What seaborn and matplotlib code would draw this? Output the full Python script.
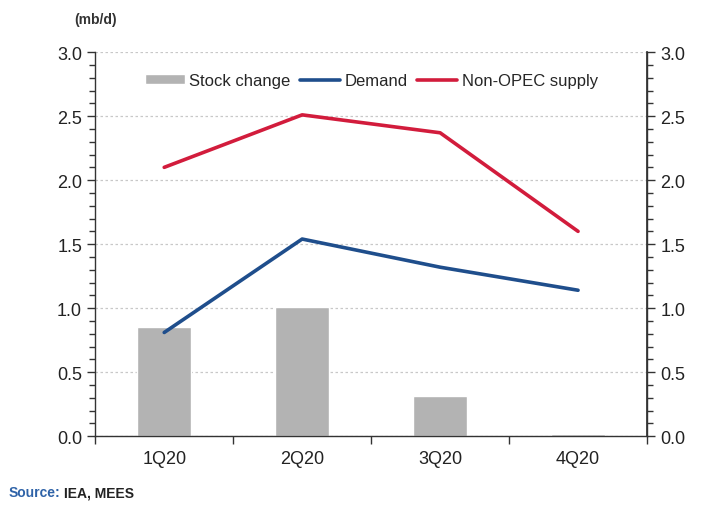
import matplotlib
matplotlib.use("Agg")
import matplotlib.pyplot as plt
import seaborn as sns
import numpy as np
import pandas as pd
from matplotlib.ticker import MultipleLocator, FixedLocator

quarters = ["1Q20", "2Q20", "3Q20", "4Q20"]
stock_change = [0.85, 1.01, 0.31, 0.02]
demand = [0.81, 1.54, 1.32, 1.14]
non_opec = [2.10, 2.51, 2.37, 1.60]

sns.set_theme(style="white")
plt.rcParams['font.family'] = ['Liberation Sans', 'DejaVu Sans']

fig = plt.figure(figsize=(7.27, 5.06), dpi=100)
ax = fig.add_axes([0.131, 0.136, 0.759, 0.759])

pos = np.arange(len(quarters))
df = pd.DataFrame({"q": quarters, "pos": pos, "stock": stock_change,
                   "demand": demand, "nonopec": non_opec})

sns.barplot(data=df, x="pos", y="stock", color="#b3b3b3", saturation=1,
            width=0.39, ax=ax, label="Stock change", native_scale=True)
sns.lineplot(data=df, x="pos", y="demand", color="#1f4e8c", lw=2.6, ax=ax,
             label="Demand")
sns.lineplot(data=df, x="pos", y="nonopec", color="#d21c3c", lw=2.6, ax=ax,
             label="Non-OPEC supply")

ax.set_xlim(-0.5, 3.5)
ax.set_ylim(0, 3.0)
ax.set_xlabel("")
ax.set_ylabel("")

ax.xaxis.set_major_locator(FixedLocator(pos))
ax.set_xticklabels(quarters, fontsize=13, color="#222222")
ax.tick_params(axis="x", which="major", length=0, pad=10)
ax.xaxis.set_minor_locator(FixedLocator(np.arange(len(quarters) + 1) - 0.5))
ax.tick_params(axis="x", which="minor", length=6, width=1, color="#333333",
               direction="out", bottom=True)

ax.yaxis.set_major_locator(MultipleLocator(0.5))
ax.yaxis.set_minor_locator(MultipleLocator(0.1))
ax.yaxis.set_major_formatter(matplotlib.ticker.FormatStrFormatter("%.1f"))
ax.tick_params(axis="y", which="major", length=6, width=1, color="#333333",
               direction="out", labelsize=13, labelcolor="#222222", left=True)
ax.tick_params(axis="y", which="minor", length=4, width=1, color="#333333",
               direction="out", left=True)

ax.grid(axis="y", which="major", color="#c8c8c8", linestyle=(0, (2, 2)), lw=0.9)
ax.set_axisbelow(True)

ax.spines["top"].set_visible(False)
for s in ["left", "bottom", "right"]:
    ax.spines[s].set_visible(True)
    ax.spines[s].set_color("#333333")
    ax.spines[s].set_linewidth(1.0)

ax2 = ax.twinx()
ax2.set_ylim(0, 3.0)
ax2.yaxis.set_major_locator(MultipleLocator(0.5))
ax2.yaxis.set_minor_locator(MultipleLocator(0.1))
ax2.yaxis.set_major_formatter(matplotlib.ticker.FormatStrFormatter("%.1f"))
ax2.tick_params(axis="y", which="major", length=6, width=1, color="#333333",
                direction="out", labelsize=13, labelcolor="#222222", right=True)
ax2.tick_params(axis="y", which="minor", length=4, width=1, color="#333333",
                direction="out", right=True)
ax2.spines["top"].set_visible(False)
ax2.spines["right"].set_color("#333333")
ax2.spines["left"].set_visible(False)
ax2.spines["bottom"].set_visible(False)
ax2.grid(False)

handles, labels = ax.get_legend_handles_labels()
order = [labels.index(l) for l in ["Stock change", "Demand", "Non-OPEC supply"]]
leg = ax.legend([handles[i] for i in order], [labels[i] for i in order],
                loc="upper center", bbox_to_anchor=(0.5, 0.985), ncol=3,
                frameon=False, fontsize=12, handlelength=2.4, handleheight=0.5,
                columnspacing=0.6, handletextpad=0.25)

fig.text(0.131, 0.96, "(mb/d)", fontsize=10, fontweight="bold", color="#333333",
         ha="center", va="center")
fig.text(0.012, 0.025, "Source:", fontsize=10, fontweight="bold",
         color="#2f63a8", ha="left", va="center")
fig.text(0.088, 0.025, "IEA, MEES", fontsize=10, fontweight="bold",
         color="#222222", ha="left", va="center")

fig.savefig("out.png", dpi=100)
